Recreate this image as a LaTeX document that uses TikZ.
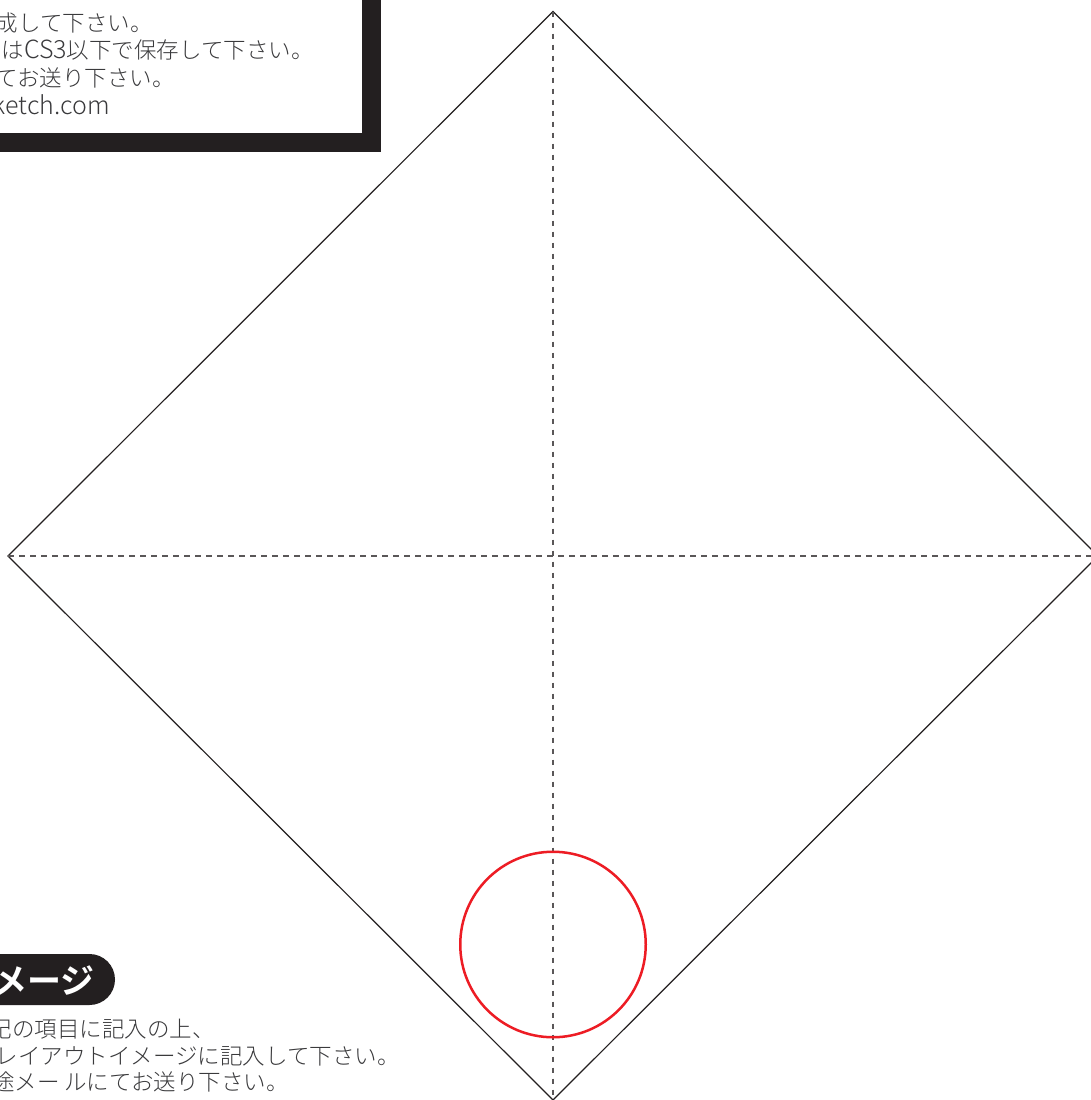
\documentclass[tikz,border=0pt]{standalone}
\usepackage{fontspec}
\newfontfamily\cjk{Noto Sans CJK JP Light}[BoldFont={Noto Sans CJK JP Bold}]
\definecolor{ink}{HTML}{231F20}
\definecolor{body}{HTML}{3A3A3C}
\definecolor{ring}{HTML}{ED1C24}
\newcommand{\latn}[1]{{\fontsize{25}{25}\selectfont #1}}
\tikzset{
  fold/.style={draw=ink,line width=1.2pt},
  crease/.style={draw=ink!75,line width=1.3pt,dash pattern=on 5.5pt off 5.5pt},
  note/.style={anchor=base east,inner sep=0pt,text=body,font=\cjk\fontsize{22.5}{22.5}\selectfont},
  pilltext/.style={anchor=base east,inner sep=0pt,text=white,font=\cjk\bfseries\fontsize{34}{34}\selectfont},
}
\begin{document}
\begin{tikzpicture}[x=1pt,y=-1pt]
\clip (0,0) rectangle (1091,1100);
\fill[white] (0,0) rectangle (1091,1100);
% frame of the instruction box
\fill[ink] (-10,-10) rectangle (380.5,152);
\fill[white] (-10,-10) rectangle (361.5,133);
\node[note] (t1) at (153,31) {成して下さい。};
\node[note] (t2) at (314,58) {は\latn{CS3}以下で保存して下さい。};
\node[note] (t3) at (175,86) {てお送り下さい。};
\node[note] (t4) at (110,114) {\latn{ketch.com}};
% pill heading
\fill[ink] (-40,954) -- (89.5,954) arc[start angle=90,end angle=-90,radius=25.5pt] -- (-40,1005) -- cycle;
\node[pilltext] (h1) at (95,993) {メージ};
\node[note] (b1) at (215,1037) {記の項目に記入の上、};
\node[note] (b2) at (400,1064) {レイアウトイメージに記入して下さい。};
\node[note] (b3) at (289,1090) {途メー ルにてお送り下さい。};
% sheet
\coordinate (top) at (553,11.5);
\coordinate (left) at (8,556);
\coordinate (bottom) at (553,1100);
\coordinate (right) at (1098,556);
\draw[fold] (top) -- (left) -- (bottom) -- (right) -- cycle;
\draw[crease] (top) -- (bottom);
\draw[crease] (left) -- (right);
\node[draw=ring,line width=2.5pt,circle,minimum size=185.5pt,inner sep=0pt] (c) at (553,944.5) {};
\end{tikzpicture}
\end{document}
